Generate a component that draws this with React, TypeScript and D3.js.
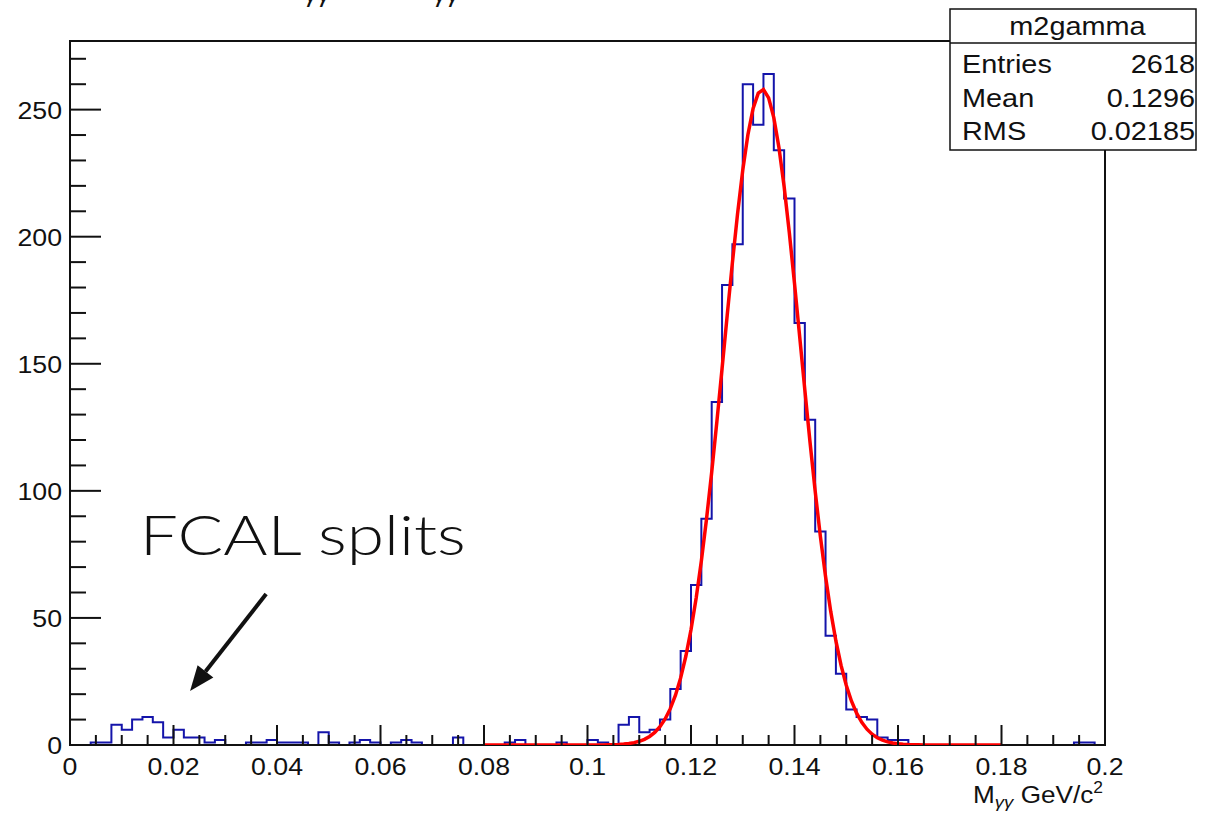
import React from "react";
import * as d3 from "d3";

// ---- data ----
const BIN_LOW = 0;
const BIN_HIGH = 0.2;
const BIN_COUNTS = [
  0, 0, 1, 1, 8, 6, 10, 11, 9, 3,
  6, 3, 3, 1, 2, 0, 0, 1, 1, 2,
  1, 1, 1, 0, 5, 1, 0, 1, 2, 1,
  0, 1, 2, 1, 0, 0, 0, 3, 0, 0,
  0, 0, 1, 2, 0, 0, 0, 1, 0, 0,
  2, 1, 0, 8, 11, 5, 6, 10, 22, 37,
  63, 89, 135, 181, 197, 260, 244, 264, 234, 215,
  166, 128, 84, 43, 28, 14, 11, 10, 3, 2,
  2, 0, 0, 0, 0, 0, 0, 0, 0, 0,
  0, 0, 0, 0, 0, 0, 0, 1, 1, 0,
];
// Gaussian fit parameters
const FIT_CONSTANT = 258;
const FIT_MEAN = 0.1338;
const FIT_SIGMA = 0.0074;
const FIT_RANGE = [0.08, 0.18];
const FIT_NPX = 100;

const X_TICK_VALUES = [0, 0.02, 0.04, 0.06, 0.08, 0.1, 0.12, 0.14, 0.16, 0.18, 0.2];
const X_TICK_LABELS = ["0", "0.02", "0.04", "0.06", "0.08", "0.1", "0.12", "0.14", "0.16", "0.18", "0.2"];
const Y_TICK_VALUES = [0, 50, 100, 150, 200, 250];
const Y_TICK_LABELS = ["0", "50", "100", "150", "200", "250"];
const Y_MAX = 277;

const STATS_TITLE = "m2gamma";
const STATS_NAMES = ["Entries", "Mean", "RMS"];
const STATS_VALUES = ["2618", "0.1296", "0.02185"];

const ANNOTATION_TEXT = "FCAL splits";
const ANNOTATION_POS = [0.0135, 74.8];
const ARROW_FROM = [0.0379, 59.4];
const ARROW_TO = [0.0232, 21.2];

// ---- layout ----
const W = 1209;
const H = 814;
const FL = 70, FR = 1105, FT = 41, FB = 745;
const SX = 1.09;
const FONT = "'Liberation Sans', Arial, Helvetica, sans-serif";

export default function App() {
  const x = d3.scaleLinear().domain([BIN_LOW, BIN_HIGH]).range([FL, FR]);
  const y = d3.scaleLinear().domain([0, Y_MAX]).range([FB, FT]);
  const nb = BIN_COUNTS.length;
  const bw = (BIN_HIGH - BIN_LOW) / nb;

  const histPts: [number, number][] = [[BIN_LOW, 0]];
  BIN_COUNTS.forEach((c, i) => {
    histPts.push([BIN_LOW + i * bw, c]);
    histPts.push([BIN_LOW + (i + 1) * bw, c]);
  });
  histPts.push([BIN_HIGH, 0]);
  const line = d3.line<[number, number]>().x((d) => x(d[0])).y((d) => y(d[1]));
  const histPath = line(histPts) || "";

  const fitPts: [number, number][] = d3.range(FIT_NPX + 1).map((k) => {
    const xv = FIT_RANGE[0] + ((FIT_RANGE[1] - FIT_RANGE[0]) * k) / FIT_NPX;
    const z = (xv - FIT_MEAN) / FIT_SIGMA;
    return [xv, FIT_CONSTANT * Math.exp(-0.5 * z * z)];
  });
  const fitPath = line(fitPts) || "";

  const xMinor = d3.range(0, 41).map((k) => k * 0.005);
  const yMinor = d3.range(0, 28).map((k) => k * 10);

  // arrow geometry
  const tx = x(ARROW_TO[0]), ty = y(ARROW_TO[1]);
  const fx = x(ARROW_FROM[0]), fy = y(ARROW_FROM[1]);
  const len = Math.hypot(tx - fx, ty - fy);
  const ux = (tx - fx) / len, uy = (ty - fy) / len;
  const headL = 25, headW = 10;
  const bx = tx - ux * headL, by = ty - uy * headL;
  const px = -uy, py = ux;

  return (
    <div style={{ position: "absolute", left: 0, top: 0 }}>
      <svg width={W} height={H} style={{ display: "block", background: "#fff" }} fontFamily={FONT}>
        <defs>
          <clipPath id="frameClip">
            <rect x={FL} y={FT} width={FR - FL} height={FB - FT} />
          </clipPath>
        </defs>
        <rect x={0} y={0} width={W} height={H} fill="#fff" />

        {/* partial title glyphs cut at top (as in reference) */}
        <text x={305} y={2} fontSize={26} fontStyle="italic" fill="#111">γγ</text>
        <text x={434} y={2} fontSize={26} fontStyle="italic" fill="#111">γγ</text>

        {/* histogram */}
        <path d={histPath} fill="none" stroke="#1414aa" strokeWidth={2} clipPath="url(#frameClip)" />

        {/* frame */}
        <rect x={FL} y={FT} width={FR - FL} height={FB - FT} fill="none" stroke="#111" strokeWidth={2} />

        {/* fit */}
        <path d={fitPath} fill="none" stroke="#ff0000" strokeWidth={3.5} clipPath="url(#frameClip)" />

        {/* x ticks */}
        {xMinor.map((v, i) => (
          <line key={"xm" + i} x1={x(v)} x2={x(v)} y1={FB} y2={FB - (i % 4 === 0 ? 20 : 10)} stroke="#111" strokeWidth={2} />
        ))}
        {X_TICK_VALUES.map((v, i) => (
          <text key={"xl" + i} transform={`translate(${x(v)},775) scale(${SX},1)`} textAnchor="middle" fontSize={24.5} fill="#111">
            {X_TICK_LABELS[i]}
          </text>
        ))}

        {/* y ticks */}
        {yMinor.map((v, i) => (
          <line key={"ym" + i} x1={FL} x2={FL + (i % 5 === 0 ? 31 : 16)} y1={y(v)} y2={y(v)} stroke="#111" strokeWidth={2} />
        ))}
        {Y_TICK_VALUES.map((v, i) => (
          <text key={"yl" + i} transform={`translate(62,${y(v) + 9}) scale(${SX},1)`} textAnchor="end" fontSize={24.5} fill="#111">
            {Y_TICK_LABELS[i]}
          </text>
        ))}

        {/* x axis title */}
        <text transform={`translate(1103,803) scale(${SX},1)`} textAnchor="end" fontSize={24} fill="#111">
          M<tspan fontSize={17} fontStyle="italic" dy={5}>γγ</tspan>
          <tspan dy={-5}> GeV/c</tspan>
          <tspan fontSize={16} dy={-10}>2</tspan>
        </text>

        {/* stats box */}
        <rect x={950} y={9} width={246} height={141} fill="#fff" stroke="#111" strokeWidth={1.5} />
        <line x1={950} x2={1196} y1={43} y2={43} stroke="#111" strokeWidth={1.5} />
        <text transform={`translate(1077.5,35) scale(${SX},1)`} textAnchor="middle" fontSize={26.5} fill="#111">{STATS_TITLE}</text>
        {STATS_NAMES.map((n, i) => (
          <g key={"st" + i}>
            <text transform={`translate(962,${73 + i * 33.6}) scale(${SX},1)`} fontSize={26.5} fill="#111">{n}</text>
            <text transform={`translate(1195,${73 + i * 33.6}) scale(${SX},1)`} textAnchor="end" fontSize={26.5} fill="#111">{STATS_VALUES[i]}</text>
          </g>
        ))}

        {/* annotation */}
        <text x={x(ANNOTATION_POS[0])} y={y(ANNOTATION_POS[1])} fontSize={56} fontWeight={300}
          fontFamily="Lato, Roboto, 'Open Sans', sans-serif" fill="#111" textLength={326} lengthAdjust="spacingAndGlyphs">
          {ANNOTATION_TEXT}
        </text>
        <line x1={fx} y1={fy} x2={bx} y2={by} stroke="#111" strokeWidth={4} />
        <polygon points={`${tx},${ty} ${bx + px * headW},${by + py * headW} ${bx - px * headW},${by - py * headW}`} fill="#111" />
      </svg>
    </div>
  );
}
